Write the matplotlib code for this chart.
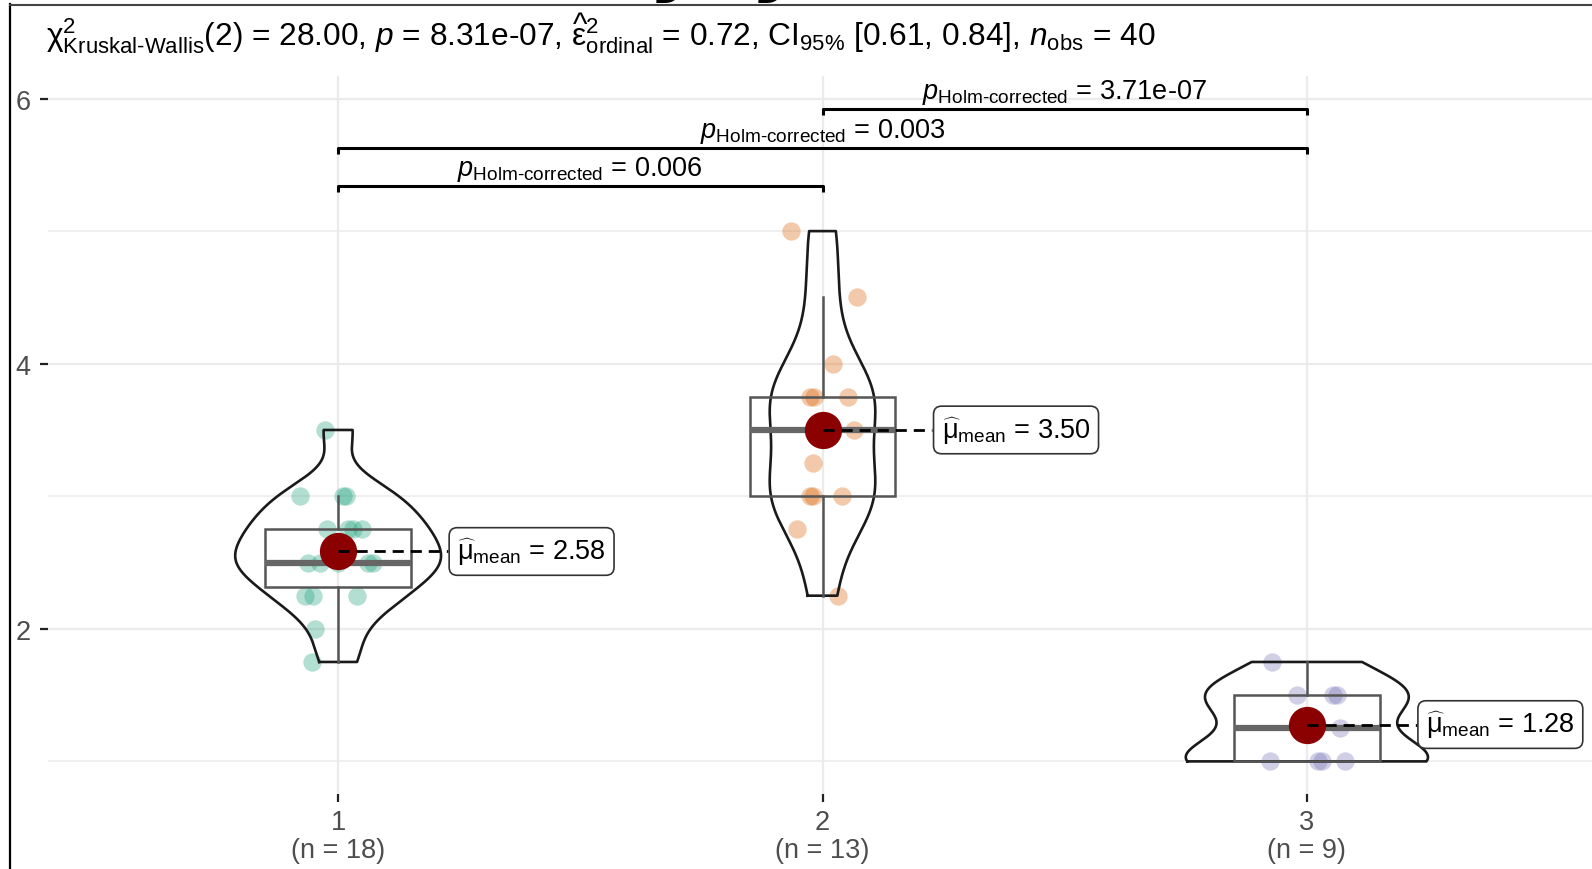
import numpy as np
import matplotlib.pyplot as plt
from matplotlib.lines import Line2D

plt.rcParams['font.family'] = ['Liberation Sans', 'DejaVu Sans']
plt.rcParams['mathtext.fontset'] = 'custom'
plt.rcParams['mathtext.rm'] = 'Liberation Sans'
plt.rcParams['mathtext.it'] = 'Liberation Sans:italic'
plt.rcParams['mathtext.bf'] = 'Liberation Sans:bold'

# scores per group
groups = ['1', '2', '3']
group_1 = [1.75, 2.0, 2.25, 2.25, 2.25, 2.5, 2.5, 2.5, 2.5, 2.5,
           2.75, 2.75, 2.75, 2.75, 3.0, 3.0, 3.0, 3.5]
group_2 = [2.25, 2.75, 3.0, 3.0, 3.0, 3.25, 3.5, 3.75, 3.75, 3.75, 4.0, 4.5, 5.0]
group_3 = [1.0, 1.0, 1.0, 1.0, 1.25, 1.5, 1.5, 1.5, 1.75]
data = [group_1, group_2, group_3]

# pairwise comparisons (Holm-corrected p values)
pairs = [(1, 2), (1, 3), (2, 3)]
p_holm = ['0.006', '0.003', '3.71e-07']

title = (r'$\mathrm{χ}^{2}_{\text{Kruskal-Wallis}}$(2) = 28.00, $p$ = 8.31e-07, '
         r'$\widehat{\mathrm{ε}}^{2}_{\text{ordinal}}$ = 0.72, '
         r'CI$_{\text{95%}}$ [0.61, 0.84], $n_{\text{obs}}$ = 40')

# jitter offsets for the points, same order as the values
jitter = [
    [-0.054, -0.047, -0.068, -0.052, 0.039, -0.062, -0.037, 0.0, 0.062, 0.072,
     -0.023, 0.02, 0.05, 0.03, -0.078, 0.01, 0.017, -0.027],
    [0.031, -0.052, -0.025, -0.02, 0.041, -0.019, 0.064, -0.025, -0.018, 0.052,
     0.021, 0.072, -0.066],
    [-0.076, 0.023, 0.031, 0.078, 0.068, -0.021, 0.054, 0.062, -0.072],
]
colors = ['#1B9E77', '#D95F02', '#7570B3']
bracket_y = [5.34, 5.63, 5.92]


def kde(vals, grid):
    v = np.asarray(vals, dtype=float)
    n = len(v)
    q75, q25 = np.percentile(v, [75, 25])
    bw = 0.9 * min(v.std(ddof=1), (q75 - q25) / 1.34) * n ** -0.2
    z = (grid[:, None] - v[None, :]) / bw
    return np.exp(-0.5 * z ** 2).sum(axis=1) / (n * bw * np.sqrt(2 * np.pi))


fig = plt.figure(figsize=(15.92, 8.70), dpi=100)
ax = fig.add_axes([47.5 / 1592, 1 - 795 / 870, 1550 / 1592, 718 / 870])

# violins, scaled by area (widest density gets half-width 0.25)
grids = [np.linspace(min(v), max(v), 512) for v in data]
dens = [kde(v, g) for v, g in zip(data, grids)]
dmax = max(d.max() for d in dens)
for i, (g, d) in enumerate(zip(grids, dens)):
    c = i + 1
    w = 0.25 * d / dmax
    xs = np.concatenate([c - w, (c + w)[::-1], [c - w[0]]])
    ys = np.concatenate([g, g[::-1], [g[0]]])
    ax.plot(xs, ys, color='#1a1a1a', lw=1.9, zorder=3)

# boxplots
ax.boxplot(data, positions=[1, 2, 3], widths=0.3, whis=1.5, showfliers=False,
           showcaps=False, patch_artist=True,
           boxprops=dict(facecolor='none', edgecolor='#555555', lw=1.8),
           whiskerprops=dict(color='#555555', lw=1.8),
           medianprops=dict(color='#666666', lw=4.5), zorder=4)

# jittered raw points
for i, vals in enumerate(data):
    xs = np.array(jitter[i]) + i + 1
    ax.scatter(xs, vals, s=175, color=colors[i], alpha=0.33, lw=0, zorder=2)

# means with labels
for i, vals in enumerate(data):
    c = i + 1
    m = np.mean(vals)
    ax.scatter([c], [m], s=720, color='#8B0000', lw=0, zorder=6)
    ax.plot([c, c + 0.227], [m, m], color='black', lw=2, ls=(0, (4, 2.5)), zorder=7)
    ax.text(c + 0.246, m, r'$\widehat{\mathrm{μ}}_{\text{mean}}$ = ' + f'{m:.2f}',
            fontsize=19.5, ha='left', va='center', zorder=8,
            bbox=dict(boxstyle='round,pad=0.3,rounding_size=0.3', fc='white',
                      ec='#333333', lw=1.2))

# significance brackets
tick = 0.045
for (a, b), p, y in zip(pairs, p_holm, bracket_y):
    ax.plot([a, a, b, b], [y - tick, y, y, y - tick], color='black', lw=2.2,
            zorder=5, solid_capstyle='butt')
    ax.text((a + b) / 2, y + 0.022,
            r'$p_{\text{Holm-corrected}}$ = ' + p,
            fontsize=19.5, ha='center', va='bottom', zorder=5)

ax.set_xlim(0.4, 3.6)
ax.set_ylim(0.754, 6.17)
ax.set_yticks([2, 4, 6])
ax.set_yticks([1, 3, 5], minor=True)
ax.set_xticks([1, 2, 3])
ax.set_xticklabels([f'{g}\n(n = {len(v)})' for g, v in zip(groups, data)],
                   linespacing=1.08)
ax.tick_params(axis='both', which='major', labelsize=19.5, labelcolor='#4d4d4d',
               color='#222222', width=1.6, length=6)
ax.tick_params(axis='x', pad=5)
ax.tick_params(axis='y', pad=6)
ax.tick_params(axis='y', which='minor', length=0)
ax.grid(True, which='major', color='#ebebeb', lw=1.6, zorder=0)
ax.grid(True, which='minor', axis='y', color='#ebebeb', lw=1.1, zorder=0)
ax.set_axisbelow(True)
for s in ax.spines.values():
    s.set_visible(False)

fig.text(46 / 1592, 1 - 46 / 870, title, fontsize=22.8, ha='left', va='baseline')

# frame edges and clipped heading remnants
fig.add_artist(Line2D([9.5 / 1592, 9.5 / 1592], [0, 1 - 5 / 870], color='black', lw=1.6))
fig.add_artist(Line2D([9.5 / 1592, 1], [1 - 5.5 / 870, 1 - 5.5 / 870], color='#444444', lw=1.5))
for x in [648, 750]:
    fig.text(x / 1592, 1 + 15.5 / 870, 'y', fontsize=60, fontweight='bold',
             family='DejaVu Sans', ha='left', va='baseline')

fig.savefig('out.png', dpi=100, facecolor='white')
